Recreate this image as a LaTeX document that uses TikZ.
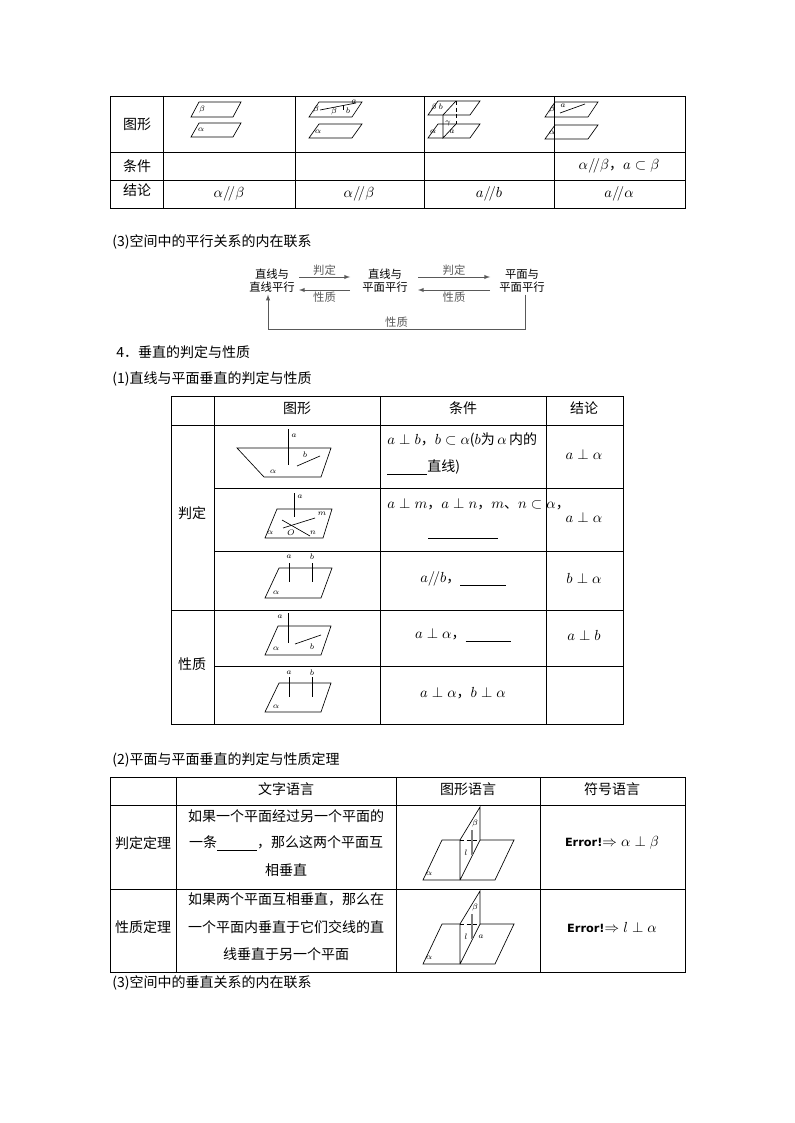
\documentclass[tikz,border=0pt]{standalone}
\usepackage{fontspec}
\setmainfont{Noto Sans CJK SC}
\newfontfamily\ersf{DejaVu Sans}
\newcommand\pgram[5]{\draw (#1,#2) -- ++(#3,0) -- ++(#5,-#4) -- ++(-#3,0) -- cycle;}
\newcommand\blank[1]{\rule[-2pt]{#1pt}{0.5pt}}
\tikzset{lbl/.style={font=\fontsize{6.5}{7}\selectfont,inner sep=0pt},
 tx/.style={font=\fontsize{10.5}{12}\selectfont,inner sep=0pt},
 txl/.style={tx,anchor=west},
 gl/.style={line width=0.5pt}}
\begin{document}
\begin{tikzpicture}[x=0.75pt,y=-0.75pt,line width=0.6pt]
\useasboundingbox (0,0) rectangle (794,1123);
% table 1
\draw (110,96) rectangle (685,208);
\foreach \y in {152,180} \draw (110,\y) -- (685,\y);
\foreach \x in {163,295,424,554} \draw (\x,96) -- (\x,208);
\node[tx] (h1) at (137,124) {图形};
\node[tx] (h2) at (137,166) {条件};
\node[tx] (h3) at (137,190) {结论};
\begin{scope}[gl]
\pgram{191}{117}{42}{15}{8} \pgram{191}{137}{42}{14}{8}
\node[lbl] at (202,110) {$\beta$}; \node[lbl] at (201,130) {$\alpha$};
\pgram{309}{117}{43}{15}{10} \pgram{309}{138}{43}{14}{10}
\draw (320,110) -- (356,103); \draw (343,110) -- (343,105);
\node[lbl] at (316,110) {$\beta$}; \node[lbl] at (334,112) {$\beta$};\node[lbl] at (348,111) {$b$};\node[lbl] at (354,102) {$a$};
\node[lbl] at (318,132) {$\alpha$};
\pgram{428}{115}{42}{14}{10} \pgram{428}{138}{42}{14}{10}
\draw (443,115) -- (443,138) -- (456,124); \draw[densely dashed] (456,101) -- (456,124);
\draw (443,115) -- (456,101);
\node[lbl] at (437,108) {$\beta\, b$}; \node[lbl] at (433,132) {$\alpha$};
\node[lbl] at (448,124) {$\gamma$}; \node[lbl] at (452,132) {$a$};
\pgram{545}{117}{43}{15}{10} \pgram{545}{139}{43}{14}{10}
\draw (560,113) -- (585,104);
\node[lbl] at (552,110) {$\beta$}; \node[lbl] at (563,106) {$a$}; \node[lbl] at (552,133) {$\alpha$};
\end{scope}
\node[tx] at (619,166) {$\alpha/\!/\beta$，$a\subset\beta$};
\node[tx] at (229,194) {$\alpha/\!/\beta$};
\node[tx] at (359,194) {$\alpha/\!/\beta$};
\node[tx] at (489,194) {$a/\!/b$};
\node[tx] at (619,194) {$a/\!/\alpha$};
\node[txl] at (112,242) {(3)空间中的平行关系的内在联系};
% flow
\tikzset{fl/.style={font=\fontsize{8.5}{10}\selectfont,align=center,inner sep=1pt},
 ar/.style={-latex,line width=0.5pt,gray!70!black}}
\node[fl] (A) at (272,281) {直线与\\直线平行};
\node[fl] (B) at (385,281) {直线与\\平面平行};
\node[fl] (C) at (522,281) {平面与\\平面平行};
\draw[ar] (299,277) -- node[fl,above] {判定} (350,277);
\draw[ar] (350,290) -- node[fl,below] {性质} (299,290);
\draw[ar] (418,277) -- node[fl,above] {判定} (490,277);
\draw[ar] (490,290) -- node[fl,below] {性质} (418,290);
\draw[ar] (C.south -| 525,0) -- (525,329) -- node[fl,above] {性质} (268,329) -- (A.south -| 268,0);
\node[txl] at (116,352) {4．垂直的判定与性质};
\node[txl] at (112,379) {(1)直线与平面垂直的判定与性质};
% table 2
\draw (171,396) rectangle (623,724);
\draw (171,425) -- (623,425);
\foreach \y in {488,551,666} \draw (214,\y) -- (623,\y);
\draw (171,610) -- (623,610);
\foreach \x in {214,380,546} \draw (\x,396) -- (\x,724);
\node[tx] at (297,408) {图形}; \node[tx] at (463,408) {条件}; \node[tx] at (584,408) {结论};
\node[tx] at (192,513) {判定}; \node[tx] at (192,664) {性质};
\begin{scope}[gl]
\draw (237,448) -- (331,448) -- (321,477) -- (264,477) -- cycle;
\draw (288,429) -- (288,465); \draw (297,466) -- (320,456);
\node[lbl] at (294,436) {$a$}; \node[lbl] at (305,455) {$b$}; \node[lbl] at (273,472) {$\alpha$};
\draw (277,509) -- (332,509) -- (323,538) -- (265,538) -- cycle;
\draw (294,493) -- (294,517); \draw (282,520) -- (310,536); \draw (283,528) -- (315,518);
\node[lbl] at (300,497) {$a$}; \node[lbl] at (322,514) {$m$}; \node[lbl] at (313,533) {$n$};
\node[lbl] at (291,533) {$O$}; \node[lbl] at (270,533) {$\alpha$};
\draw (279,568) -- (332,568) -- (321,598) -- (265,598) -- cycle;
\draw (289,563) -- (289,582); \draw (312,563) -- (312,582);
\node[lbl] at (289,557) {$a$}; \node[lbl] at (312,557) {$b$}; \node[lbl] at (276,593) {$\alpha$};
\draw (278,626) -- (331,626) -- (321,655) -- (265,655) -- cycle;
\draw (288,613) -- (288,643); \draw (295,644) -- (321,635);
\node[lbl] at (280,617) {$a$}; \node[lbl] at (312,647) {$b$}; \node[lbl] at (276,649) {$\alpha$};
\draw (279,683) -- (331,683) -- (321,712) -- (265,712) -- cycle;
\draw (289,677) -- (289,697); \draw (312,677) -- (312,697);
\node[lbl] at (289,673) {$a$}; \node[lbl] at (312,673) {$b$}; \node[lbl] at (276,707) {$\alpha$};
\end{scope}
\node[txl] at (387,440) {$a\perp b$，$b\subset\alpha$($b$为$\,\alpha\,$内的};
\node[txl] at (387,467) {\blank{30}直线)};
\node[txl] at (387,504) {$a\perp m$，$a\perp n$，$m$、$n\subset\alpha$，};
\node[tx] at (463,537) {\blank{52}};
\node[tx] at (463,579) {$a/\!/b$，\blank{34}};
\node[tx] at (463,635) {$a\perp\alpha$，\blank{34}};
\node[tx] at (463,693) {$a\perp\alpha$，$b\perp\alpha$};
\node[tx] at (584,454) {$a\perp\alpha$};
\node[tx] at (584,517) {$a\perp\alpha$};
\node[tx] at (584,578) {$b\perp\alpha$};
\node[tx] at (584,635) {$a\perp b$};
\node[txl] at (112,760) {(2)平面与平面垂直的判定与性质定理};
% table 3
\draw (110,777) rectangle (685,972);
\foreach \y in {805,889} \draw (110,\y) -- (685,\y);
\foreach \x in {176,396,540} \draw (\x,777) -- (\x,972);
\node[tx] at (286,789) {文字语言}; \node[tx] at (468,789) {图形语言}; \node[tx] at (612,789) {符号语言};
\node[tx] at (143,843) {判定定理}; \node[tx] at (143,927) {性质定理};
\node[tx] at (286,816) {如果一个平面经过另一个平面的};
\node[tx] at (286,843) {一条\blank{30}，那么这两个平面互};
\node[tx] at (286,870) {相垂直};
\node[tx] at (286,899) {如果两个平面互相垂直，那么在};
\node[tx] at (286,927) {一个平面内垂直于它们交线的直};
\node[tx] at (286,954) {线垂直于另一个平面};
\foreach \d/\ex in {0/0,84/1}{
\begin{scope}[gl,yshift=-\d*0.75pt]
\draw (460,840) -- (442,840) -- (423,880) -- (495,880) -- (514,840) -- (480,840);
\draw[densely dashed] (460,840) -- (480,840);
\draw (460,880) -- (460,840) -- (480,807) -- (480,840) -- (460,880);
\draw[gray,line width=0.8pt] (472,830) -- (472,855);
\node[lbl] at (475,823) {$\beta$}; \node[lbl] at (466,853) {$l$}; \node[lbl] at (429,874) {$\alpha$};
\ifnum\ex=1 \node[lbl] at (481,853) {$a$}; \fi
\end{scope}}
\node[tx] at (612,843) {{\ersf\bfseries\fontsize{8.5}{10}\selectfont Error!}$\Rightarrow\alpha\perp\beta$};
\node[tx] at (612,927) {{\ersf\bfseries\fontsize{8.5}{10}\selectfont Error!}$\Rightarrow l\perp\alpha$};
\node[txl] at (112,983) {(3)空间中的垂直关系的内在联系};
\end{tikzpicture}
\end{document}
